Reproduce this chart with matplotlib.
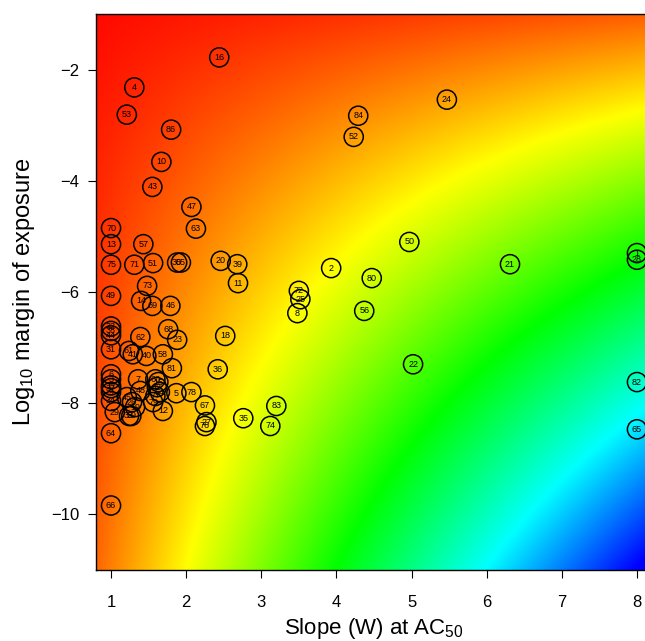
import numpy as np
import matplotlib
matplotlib.use("Agg")
import matplotlib.pyplot as plt
from matplotlib.colors import hsv_to_rgb

plt.rcParams["font.family"] = ["Liberation Sans", "DejaVu Sans"]
plt.rcParams["mathtext.fontset"] = "custom"
plt.rcParams["mathtext.rm"] = "Liberation Sans"
plt.rcParams["mathtext.it"] = "Liberation Sans:italic"

# Chemical id, Hill slope (W) at AC50, log10 margin of exposure
ids = [16, 4, 53, 86, 10, 43, 47, 63, 24, 84, 52,
       70, 13, 57, 75, 71, 51, 30, 55, 20, 39, 11,
       2, 50, 80, 72, 25, 8, 56, 21, 1, 28, 22, 82, 65,
       49, 73, 14, 69, 46, 18, 68, 23, 62, 31,
       32, 38, 44, 61, 41, 40, 58, 81, 36,
       6, 3, 17, 37, 9, 34, 29, 33, 59,
       45, 26, 19, 48, 7, 60, 15, 42, 54, 77, 79,
       5, 78, 12, 67, 27, 76, 35, 74, 83, 64, 66]
slope = [2.44, 1.31, 1.21, 1.80, 1.67, 1.55, 2.07, 2.13, 5.47, 4.29, 4.23,
         1.0, 1.0, 1.43, 1.0, 1.31, 1.56, 1.88, 1.93, 2.46, 2.68, 2.69,
         3.93, 4.97, 4.47, 3.50, 3.52, 3.48, 4.37, 6.31, 8.0, 8.0, 5.02, 8.0, 8.0,
         1.0, 1.48, 1.40, 1.55, 1.79, 2.52, 1.76, 1.88, 1.39, 1.0,
         1.0, 1.0, 1.0, 1.24, 1.29, 1.47, 1.69, 1.81, 2.42,
         1.0, 1.0, 1.0, 1.0, 1.0, 1.0, 1.05, 1.24, 1.27,
         1.21, 1.28, 1.32, 1.39, 1.36, 1.59, 1.63, 1.61, 1.65, 1.59, 1.56,
         1.87, 2.07, 1.69, 2.25, 2.27, 2.25, 2.76, 3.12, 3.20, 1.0, 1.0]
log_moe = [-1.78, -2.32, -2.81, -3.08, -3.66, -4.11, -4.47, -4.86, -2.54, -2.83, -3.21,
           -4.85, -5.14, -5.14, -5.51, -5.51, -5.48, -5.47, -5.47, -5.44, -5.50, -5.84,
           -5.57, -5.10, -5.75, -5.98, -6.13, -6.38, -6.34, -5.50, -5.30, -5.42, -7.30, -7.62, -8.47,
           -6.07, -5.89, -6.16, -6.25, -6.25, -6.79, -6.67, -6.86, -6.81, -7.03,
           -6.62, -6.70, -6.78, -7.06, -7.12, -7.15, -7.12, -7.37, -7.39,
           -7.48, -7.57, -7.68, -7.73, -7.80, -7.96, -8.16, -8.23, -8.23,
           -7.89, -7.98, -8.07, -7.78, -7.57, -7.57, -7.62, -7.71, -7.80, -7.87, -7.98,
           -7.82, -7.80, -8.14, -8.04, -8.34, -8.41, -8.27, -8.41, -8.05, -8.54, -9.84]

x_ticks = [1, 2, 3, 4, 5, 6, 7, 8]
y_ticks = [-2, -4, -6, -8, -10]
xlim = (0.8, 8.2)
ylim = (-11, -1)

fig = plt.figure(figsize=(6.45, 6.41), dpi=100)
ax = fig.add_axes([96 / 645, 71 / 641, (652 - 96) / 645, (570 - 14) / 641])

# background: rainbow hue rising with slope * (-log MOE)
gx = np.linspace(xlim[0], xlim[1], 400)
gy = np.linspace(ylim[0], ylim[1], 400)
GX, GY = np.meshgrid(gx, gy)
hue = np.clip(0.0076 * GX * (-GY), 0, 0.667)
rgb = hsv_to_rgb(np.dstack([hue, np.ones_like(hue), np.ones_like(hue)]))
ax.imshow(rgb, extent=[xlim[0], xlim[1], ylim[0], ylim[1]], origin="lower",
          aspect="auto", interpolation="bilinear", zorder=0)

ax.scatter(slope, log_moe, s=190, facecolors="none", edgecolors="black",
           linewidths=1.1, zorder=2)
for i, xv, yv in zip(ids, slope, log_moe):
    ax.text(xv, yv, str(i), fontsize=6.5, ha="center", va="center", zorder=3)

ax.set_xlim(*xlim)
ax.set_ylim(*ylim)
ax.set_xticks(x_ticks)
ax.set_yticks(y_ticks)
ax.tick_params(axis="both", direction="out", length=6, width=0.8, labelsize=12)
ax.tick_params(axis="x", pad=12)
ax.tick_params(axis="y", pad=6)
for sp in ax.spines.values():
    sp.set_linewidth(1.0)
ax.set_xlabel("Slope (W) at AC$_{50}$", fontsize=16, labelpad=4)
ax.set_ylabel("Log$_{10}$ margin of exposure", fontsize=17, labelpad=10)

fig.savefig("out.png", dpi=100)
